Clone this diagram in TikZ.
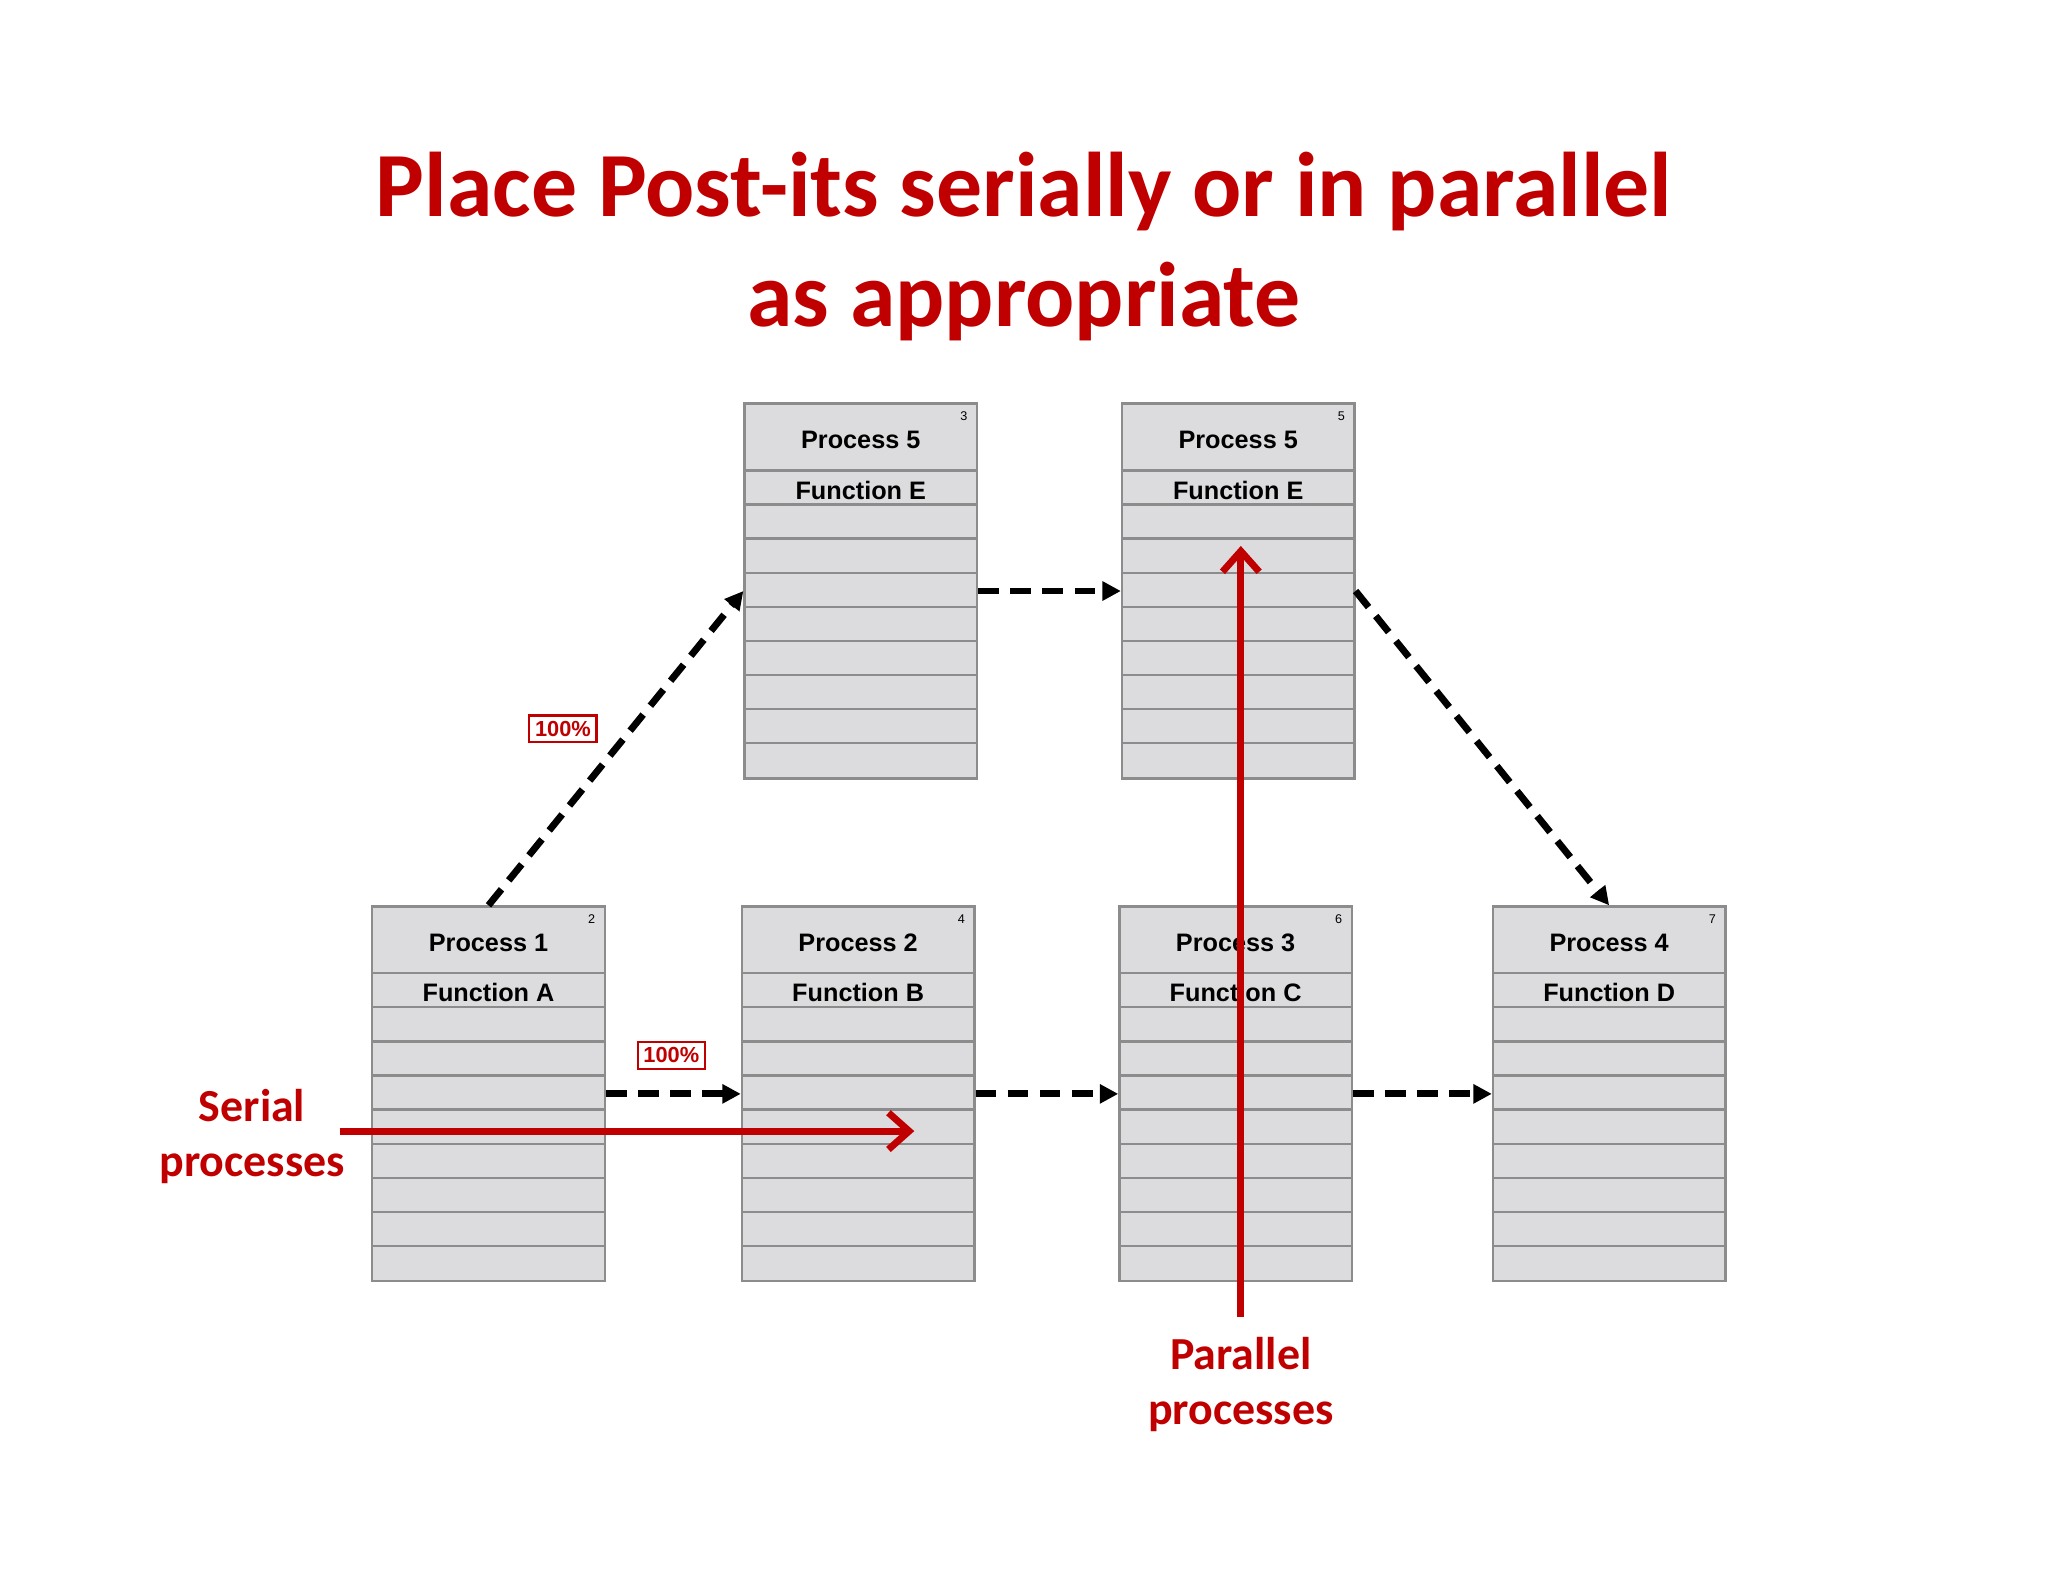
\documentclass[tikz,border=0pt]{standalone}
\usepackage{fontspec}
\setmainfont{Liberation Sans}
\newfontfamily\calib{Carlito}
\usetikzlibrary{arrows.meta,calc}
\definecolor{ppred}{RGB}{192,0,0}
\definecolor{ppgray}{RGB}{220,219,221}
\definecolor{ppline}{RGB}{140,140,140}
\tikzset{
  postit/.style={draw=ppline,line width=1pt,fill=ppgray,minimum width=3.56cm,minimum height=5.74cm,inner sep=0pt},
  flow/.style={line width=3pt,dash pattern=on 9pt off 5pt,-{Triangle[length=8pt,width=8pt]}},
  bigred/.style={ppred,line width=3pt,-{Straight Barb[length=9pt,width=16pt,line width=3pt]}},
  pct/.style={draw=ppred,line width=1pt,fill=white,text=ppred,font=\bfseries\fontsize{9.5}{11}\selectfont,inner sep=2.5pt},
  redlbl/.style={text=ppred,font=\calib\bfseries\fontsize{20}{24}\selectfont,align=center}
}
\newcommand{\postitbox}[6]{%
  \node[postit] (#1) at (#2,#3) {};
  \foreach \k in {0,...,8}
    \draw[ppline,line width=1pt] ($(#1.north west)+(0,52+26.1*\k)$) -- ($(#1.north east)+(0,52+26.1*\k)$);
  \node[font=\fontsize{5.5}{6}\selectfont,anchor=north east] at ($(#1.north east)+(-2,1)$) {#4};
  \node[font=\bfseries\fontsize{11}{13}\selectfont] at ($(#1.north)+(0,29)$) {#5};
  \node[font=\bfseries\fontsize{11}{13}\selectfont] at ($(#1.north)+(0,67)$) {#6};
}
\begin{document}
\begin{tikzpicture}[x=0.02cm,y=-0.02cm]
\useasboundingbox[fill=white] (0,0) rectangle (1568,1212);
\node[text=ppred,font=\calib\bfseries\fontsize{40}{48}\selectfont,align=center] (title) at (784,189) {Place Post-its serially or in parallel\\as appropriate};
\postitbox{e1}{659}{452.5}{3}{Process 5}{Function E}
\postitbox{e2}{948}{452.5}{5}{Process 5}{Function E}
\postitbox{a}{374}{837.5}{2}{Process 1}{Function A}
\postitbox{b}{657}{837.5}{4}{Process 2}{Function B}
\postitbox{c}{946}{837.5}{6}{Process 3}{Function C}
\postitbox{d}{1232}{837.5}{7}{Process 4}{Function D}
% dashed flow
\draw[flow] (a.north) -- (e1.west);
\draw[flow] (e1.east) -- (e2.west);
\draw[flow] (e2.east) -- (d.north);
\draw[flow] (a.east) -- (b.west);
\draw[flow] (b.east) -- (c.west);
\draw[flow] (c.east) -- (d.west);
\node[pct] (p1) at (431,558) {100\%};
\node[pct] (p2) at (514,808) {100\%};
% red arrows
\coordinate (s0) at (260,866);
\coordinate (s1) at (700,866);
\coordinate (q0) at (950,1008);
\coordinate (q1) at (950,418);
\draw[bigred] (s0) -- (s1);
\draw[bigred] (q0) -- (q1);
\node[redlbl] (serial) at (193,870) {Serial\\processes};
\node[redlbl] (parallel) at (950,1060) {Parallel\\processes};
\end{tikzpicture}
\end{document}
